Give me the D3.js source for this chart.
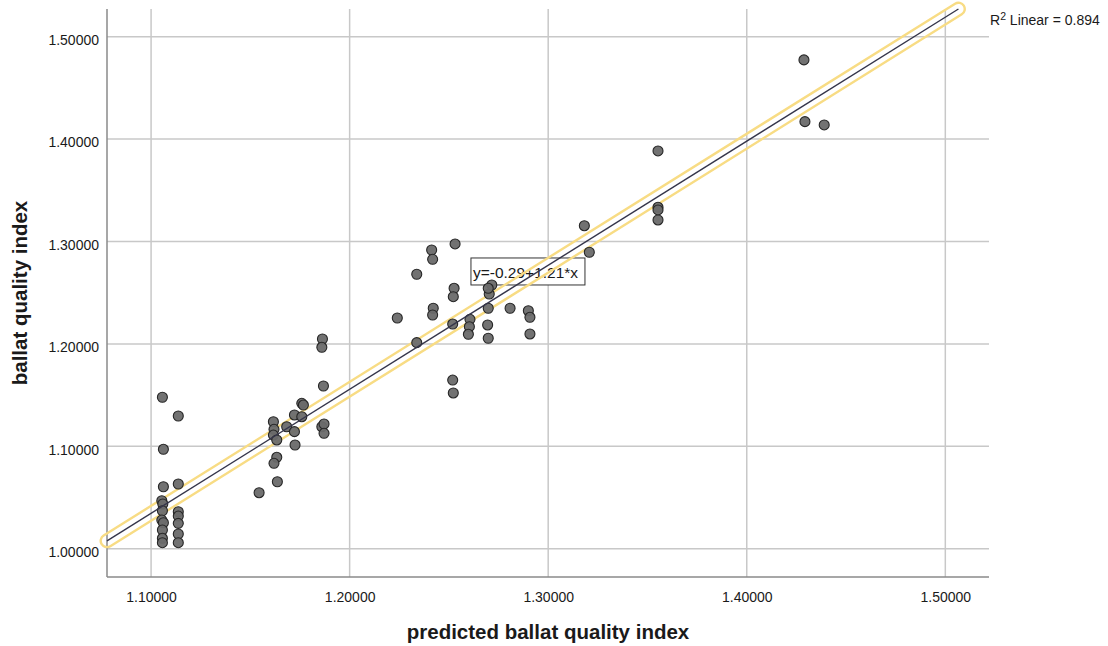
<!DOCTYPE html>
<html>
<head>
<meta charset="utf-8">
<script src="https://cdn.jsdelivr.net/npm/d3@7"></script>
<style>
  body { margin: 0; background: #fff; }
  svg text { font-family: "Liberation Sans", Arial, sans-serif; fill: #1a1a1a; }
</style>
</head>
<body>
<div id="chart"></div>
<script>
// observed vs predicted ballat quality index
var predicted = [
  1.1057, 1.1137, 1.1062, 1.1062, 1.1137, 1.1054, 1.1059, 1.1057, 1.1054, 1.1062,
  1.1057, 1.1057, 1.1057, 1.1137, 1.1137, 1.1137, 1.1137, 1.1137,
  1.1544, 1.1636, 1.1633, 1.1619, 1.1616, 1.1619, 1.1616, 1.1633, 1.1683, 1.1722,
  1.1759, 1.1767, 1.1759, 1.1722, 1.1725, 1.1868, 1.1863, 1.1860, 1.1860, 1.1871, 1.1871,
  1.2240, 1.2338, 1.2338, 1.2413, 1.2418, 1.2421, 1.2418, 1.2531, 1.2526, 1.2522,
  1.2519, 1.2519, 1.2522, 1.2606, 1.2603, 1.2598, 1.2695, 1.2698, 1.2698, 1.2703,
  1.2716, 1.2808, 1.2900, 1.2908, 1.2908, 1.2698,
  1.3182, 1.3207, 1.3553, 1.3553, 1.3553, 1.3553, 1.4288, 1.4293, 1.4390
];
var observed = [
  1.1479, 1.1296, 1.0971, 1.0605, 1.0632, 1.0469, 1.0437, 1.0371, 1.0280, 1.0254,
  1.0183, 1.0102, 1.0059, 1.0361, 1.0319, 1.0248, 1.0144, 1.0059,
  1.0547, 1.0654, 1.0893, 1.0834, 1.1240, 1.1166, 1.1110, 1.1062, 1.1191, 1.1306,
  1.1420, 1.1403, 1.1289, 1.1143, 1.1013, 1.1589, 1.2048, 1.1967, 1.1191, 1.1218, 1.1127,
  1.2253, 1.2012, 1.2680, 1.2917, 1.2826, 1.2348, 1.2282, 1.2976, 1.2543, 1.2461,
  1.2194, 1.1647, 1.1521, 1.2240, 1.2168, 1.2094, 1.2185, 1.2055, 1.2348, 1.2487,
  1.2575, 1.2348, 1.2324, 1.2260, 1.2097, 1.2543,
  1.3154, 1.2895, 1.3884, 1.3334, 1.3308, 1.3210, 1.4773, 1.4170, 1.4138
];
var xTicks = [1.1, 1.2, 1.3, 1.4, 1.5];
var yTicks = [1.0, 1.1, 1.2, 1.3, 1.4, 1.5];
var fitIntercept = -0.2975, fitSlope = 1.211;
var fitLabel = "y=-0.29+1.21*x";
var r2Value = "0.894";

var W = 1108, H = 646;
var margin = {top: 9, right: 119, bottom: 69, left: 107};
var w = W - margin.left - margin.right,
    h = H - margin.top - margin.bottom;

var svg = d3.select("#chart").append("svg")
    .attr("width", W)
    .attr("height", H);
var g = svg.append("g").attr("transform", "translate(" + margin.left + "," + margin.top + ")");

var x = d3.scaleLinear().domain([1.0778, 1.5220]).range([0, w]);
var y = d3.scaleLinear().domain([0.9724, 1.5270]).range([h, 0]);
var fmt = d3.format(".5f");

// grid lines
g.append("g").selectAll("line").data(xTicks).enter().append("line")
    .attr("x1", (d) => x(d)).attr("x2", (d) => x(d))
    .attr("y1", 0).attr("y2", h)
    .attr("stroke", "#c8c8c8").attr("stroke-width", 1.5);
g.append("g").selectAll("line").data(yTicks).enter().append("line")
    .attr("y1", (d) => y(d)).attr("y2", (d) => y(d))
    .attr("x1", 0).attr("x2", w)
    .attr("stroke", "#c8c8c8").attr("stroke-width", 1.5);

// axes (labels only, lines drawn below)
var xAxis = g.append("g").attr("transform", "translate(0," + h + ")")
    .call(d3.axisBottom(x).tickValues(xTicks).tickFormat(fmt).tickSize(0).tickPadding(12));
var yAxis = g.append("g")
    .call(d3.axisLeft(y).tickValues(yTicks).tickFormat(fmt).tickSize(0).tickPadding(8));
[xAxis, yAxis].forEach(function(a) {
    a.select(".domain").remove();
    a.selectAll("text").attr("font-size", 14).attr("fill", "#1a1a1a")
        .style("font-family", "'Liberation Sans', Arial, sans-serif");
});
yAxis.selectAll("text").attr("dy", "0.55em").attr("dx", 0);
xAxis.selectAll("text").attr("dy", "0.92em");

g.append("line").attr("x1", 0).attr("x2", 0).attr("y1", 0).attr("y2", h)
    .attr("stroke", "#8a8a8a").attr("stroke-width", 1.5);
g.append("line").attr("x1", 0).attr("x2", w).attr("y1", h).attr("y2", h)
    .attr("stroke", "#8a8a8a").attr("stroke-width", 1.5);

// equation label box
var lx = x(1.2611), ly = y(1.2839);
var lbl = g.append("g").attr("transform", "translate(" + lx + "," + ly + ")");
lbl.append("rect").attr("x", 0).attr("y", 0).attr("width", 114).attr("height", 27)
    .attr("fill", "#fff").attr("stroke", "#333").attr("stroke-width", 1);
lbl.append("text").attr("x", 2).attr("y", 20).attr("font-size", 15.5).text(fitLabel);

// fit line: from left edge to where it leaves the top
var x0 = x.domain()[0];
var x1 = (y.domain()[1] - fitIntercept) / fitSlope;
var fitPts = [x0, x1].map((v) => [x(v), y(fitIntercept + fitSlope * v)]);
var line = d3.line();

// yellow selection outline around the fit line (hollow capsule)
var dx = fitPts[1][0] - fitPts[0][0], dy = fitPts[1][1] - fitPts[0][1];
var len = Math.sqrt(dx * dx + dy * dy);
var ang = Math.atan2(dy, dx) * 180 / Math.PI;
var half = 6.3;
g.append("rect")
    .attr("transform", "translate(" + fitPts[0][0] + "," + fitPts[0][1] + ") rotate(" + ang + ")")
    .attr("x", -half).attr("y", -half)
    .attr("width", len + 2 * half).attr("height", 2 * half)
    .attr("rx", half).attr("ry", half)
    .attr("fill", "none").attr("stroke", "#f8dc84").attr("stroke-width", 2.4);

// points
g.append("g").selectAll("circle")
    .data(d3.range(predicted.length))
    .enter().append("circle")
    .attr("cx", (i) => x(predicted[i]))
    .attr("cy", (i) => y(observed[i]))
    .attr("r", 5)
    .attr("fill", "#6a6a6a")
    .attr("stroke", "#262626")
    .attr("stroke-width", 1.1)
    .attr("fill-opacity", 0.95);

g.append("path").attr("d", line(fitPts)).attr("fill", "none")
    .attr("stroke", "#35354a").attr("stroke-width", 1.4);

// R2 label
var r2 = svg.append("text").attr("x", 990).attr("y", 25).attr("font-size", 14);
r2.append("tspan").text("R");
r2.append("tspan").attr("dy", -5).attr("font-size", 10.5).text("2");
r2.append("tspan").attr("dy", 5).text(" Linear = " + r2Value);

// axis titles
svg.append("text").attr("x", margin.left + w / 2).attr("y", 639)
    .attr("text-anchor", "middle").attr("font-size", 20.5).attr("font-weight", "bold")
    .text("predicted ballat quality index");
svg.append("text")
    .attr("transform", "translate(27," + (margin.top + h / 2) + ") rotate(-90)")
    .attr("text-anchor", "middle").attr("font-size", 20.5).attr("font-weight", "bold")
    .text("ballat quality index");
</script>
</body>
</html>
